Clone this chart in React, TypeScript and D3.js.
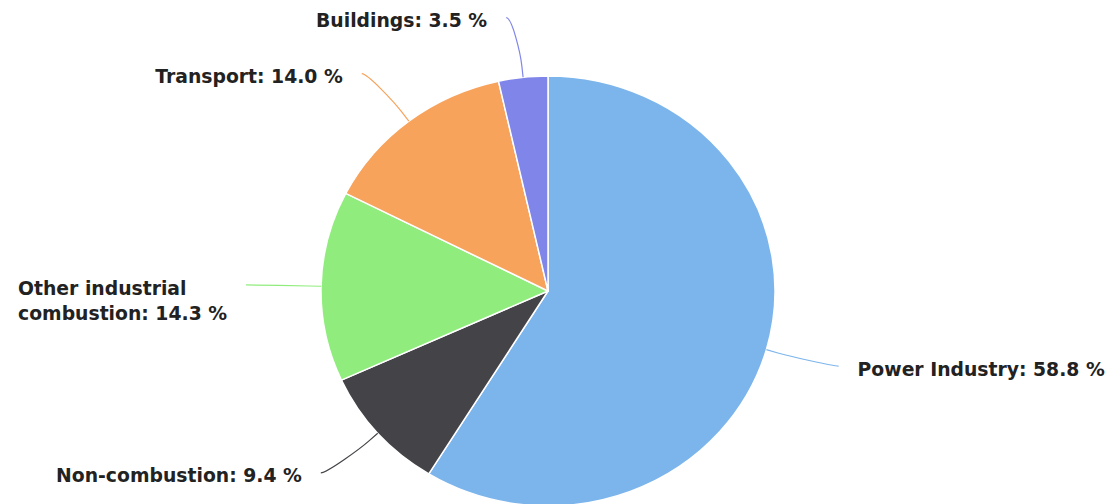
import React from "react";
import * as d3 from "d3";

const categories = ["Power Industry", "Non-combustion", "Other industrial combustion", "Transport", "Buildings"];
const values = [58.8, 9.4, 14.3, 14.0, 3.5];
const colors = ["#7cb5ec", "#434348", "#90ed7d", "#f7a35c", "#8085e9"];

const W = 1109;
const H = 504;
const cx = 548;
const cy = 291;
const rx = 227;
const ry = 215;
const dY = 60;
const dX = 75;
const FONT = 18.8;
const FONT_FAMILY = "'DejaVu Sans', Verdana, sans-serif";

function wrap(text: string, maxChars: number): string[] {
  const words = text.split(" ");
  const lines: string[] = [];
  let cur = "";
  for (const w of words) {
    const next = cur ? cur + " " + w : w;
    if (next.length > maxChars && cur) {
      lines.push(cur);
      cur = w;
    } else cur = next;
  }
  if (cur) lines.push(cur);
  return lines;
}

let ctx: CanvasRenderingContext2D | null = null;
function measure(t: string): number {
  if (!ctx) ctx = document.createElement("canvas").getContext("2d");
  if (!ctx) return t.length * FONT * 0.6;
  ctx.font = `bold ${FONT}px ${FONT_FAMILY}`;
  return ctx.measureText(t).width;
}

export default function App() {
  const pie = d3.pie<number>().sort(null).value((d) => d);
  const arcs = pie(values);
  const arcGen = d3.arc<d3.PieArcDatum<number>>().innerRadius(0).outerRadius(ry);
  const sx = rx / ry;

  const labels = arcs.map((a, i) => {
    const mid = (a.startAngle + a.endAngle) / 2;
    const s = Math.sin(mid);
    const c = Math.cos(mid);
    const edge = { x: cx + rx * s, y: cy - ry * c };
    const brk = { x: cx + (rx + 12) * s, y: cy - (ry + 12) * c };
    const ly = cy - (ry + dY) * c;
    const ny = Math.max(-1, Math.min(1, (ly - cy) / (ry + dY + 1)));
    const side = s >= 0 ? 1 : -1;
    const lx = cx + side * (rx + dX) * Math.sqrt(1 - ny * ny);
    const path = `M${lx},${ly} C${lx - side * 6},${ly} ${2 * brk.x - edge.x},${2 * brk.y - edge.y} ${brk.x},${brk.y} L${edge.x},${edge.y}`;
    const text = `${categories[i]}: ${values[i].toFixed(1)} %`;
    const lines = wrap(text, 22);
    const maxW = Math.max(...lines.map(measure));
    const tx = side > 0 ? Math.min(lx + 19, W - 2 - maxW) : lx - 19 - maxW;
    return { path, lx, ly, side, lines, color: colors[i], tx };
  });

  return (
    <svg
      width={W}
      height={H}
      style={{ position: "absolute", left: 0, top: 0, background: "#fff" }}
      fontFamily={FONT_FAMILY}
    >
      <rect width={W} height={H} fill="#fff" />
      <g transform={`translate(${cx},${cy}) scale(${sx},1)`}>
        {arcs.map((a, i) => (
          <path
            key={i}
            d={arcGen(a) || ""}
            fill={colors[i]}
            stroke="#ffffff"
            strokeWidth={1.5}
            strokeLinejoin="round"
            vectorEffect="non-scaling-stroke"
          />
        ))}
      </g>
      {labels.map((l, i) => (
        <g key={i}>
          <path d={l.path} fill="none" stroke={l.color} strokeWidth={1.2} />
          <text
            x={l.tx}
            y={l.ly + 3}
            textAnchor="start"
            fontSize={FONT}
            fontWeight="bold"
            fill="#222"
          >
            {l.lines.map((ln, j) => (
              <tspan key={j} x={l.tx} dy={j === 0 ? "0.35em" : 25}>
                {ln}
              </tspan>
            ))}
          </text>
        </g>
      ))}
    </svg>
  );
}
